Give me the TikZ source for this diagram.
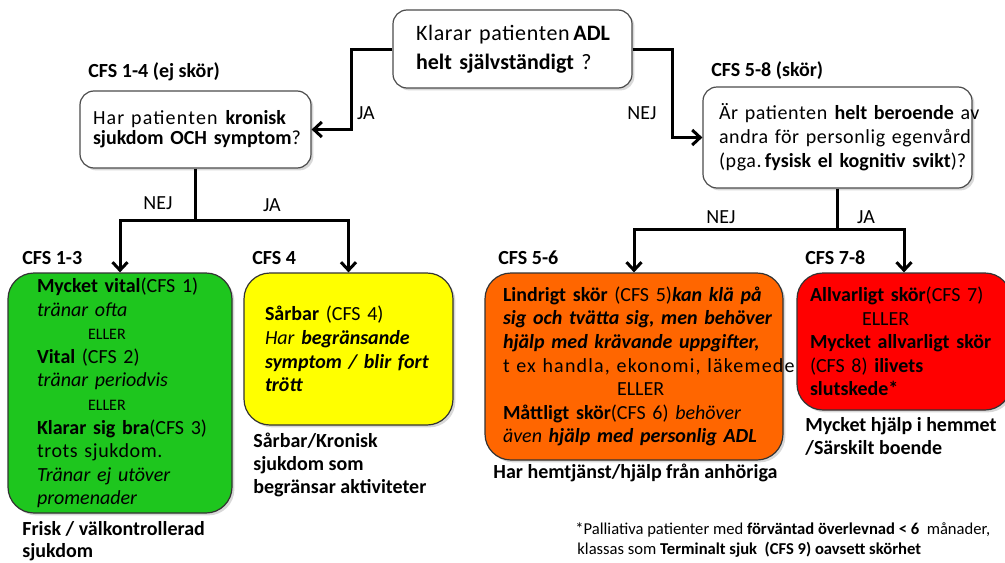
\documentclass[tikz,border=0pt]{standalone}
\usepackage{fontspec}
\setmainfont{Carlito}
\newfontfamily\spc{Carlito}[LetterSpace=3]
\newfontfamily\spcw{Carlito}[LetterSpace=6]
\usetikzlibrary{arrows.meta,shadows}
\definecolor{cfsgreen}{RGB}{30,198,30}
\definecolor{cfsyellow}{RGB}{255,255,0}
\definecolor{cfsorange}{RGB}{255,102,0}
\definecolor{cfsred}{RGB}{255,0,0}
\newcommand\txl[1]{\mbox{#1}}
\hfuzz=200pt \hbadness=10000
\begin{document}
\begin{tikzpicture}[x=0.5pt,y=-0.5pt,
  shade/.style={drop shadow={shadow xshift=1.2pt,shadow yshift=-1.2pt,opacity=0.3}},
  qbox/.style={draw=black!70, line width=0.6pt, rounded corners=7pt, fill=white, shade, align=left, inner ysep=0pt},
  cbox/.style={draw=black!80, line width=0.6pt, rounded corners=13pt, shade, align=left, inner ysep=0pt,
    font=\fontsize{10}{11.8}\selectfont},
  hdr/.style={font=\fontsize{10}{11.5}\selectfont\bfseries, inner sep=0pt, anchor=west, align=left},
  lbl/.style={font=\fontsize{10}{12}\selectfont, inner sep=0pt},
  note/.style={font=\fontsize{8.3}{10}\selectfont, inner sep=0pt, anchor=west, align=left},
  conn/.style={line width=1.5pt},
  arr/.style={line width=1.5pt, -{Straight Barb[length=4pt,width=7.5pt]}}
]
\useasboundingbox (0,0) rectangle (1005,562);
\fill[white] (0,0) rectangle (1005,562);

% question boxes
\node[qbox, text width=96.5pt, inner xsep=11.5pt, minimum height=39pt,
  font=\fontsize{11}{14.5}\selectfont] (top) at (512.5,49)
  {\txl{{\spc Klarar patienten}\,\textbf{ADL}}\\ \txl{\textbf{helt självständigt} ?}};
\node[qbox, text width=102.5pt, inner xsep=6.5pt, minimum height=38.5pt,
  font=\fontsize{10}{10}\selectfont] (lq) at (195.5,129.5)
  {\txl{{\spcw Har patienten} \textbf{kronisk}}\\ \txl{\textbf{sjukdom OCH symptom}?}};
\node[qbox, text width=118.5pt, inner xsep=8pt, minimum height=50.5pt,
  font=\fontsize{10}{12}\selectfont] (rq) at (837.5,137.5)
  {\txl{{\spc Är patienten} \textbf{helt beroende} {\spc av}}\\
   \txl{\spc andra för personlig egenvård}\\
   \txl{{\spc (pga.}\,\textbf{fysisk el kognitiv svikt})?}};

% headers
\node[hdr] (h14) at (88,72) {CFS 1-4 (ej skör)};
\node[hdr] (h58) at (711,71) {CFS 5-8 (skör)};
\node[hdr] (h13) at (22,258) {CFS 1-3};
\node[hdr] (h4) at (252,258) {CFS 4};
\node[hdr] (h56) at (498,258) {CFS 5-6};
\node[hdr] (h78) at (805,258) {CFS 7-8};

% category boxes
\node[cbox, fill=cfsgreen, text width=83pt, inner xsep=14.5pt, minimum height=120pt] (green) at (120,393)
  {\txl{\textbf{Mycket vital}(CFS 1)}\\
   \txl{\itshape tränar ofta}\\
   \txl{\hspace*{25.5pt}\fontsize{8}{11.7}\selectfont ELLER}\\
   \txl{\textbf{Vital} (CFS 2)}\\
   \txl{\itshape tränar periodvis}\\
   \txl{\hspace*{25.5pt}\fontsize{8}{11.7}\selectfont ELLER}\\
   \txl{\textbf{Klarar sig bra}(CFS 3)}\\
   \txl{\spc trots sjukdom.}\\
   \txl{\itshape Tränar ej utöver}\\
   \txl{\itshape promenader}};
\node[cbox, fill=cfsyellow, text width=83.5pt, inner xsep=10.5pt, minimum height=76pt] (yellow) at (348.5,349)
  {\txl{\textbf{Sårbar} (CFS 4)}\\
   \txl{\itshape Har \bfseries begränsande}\\
   \txl{\bfseries\itshape symptom / blir fort}\\
   \txl{\bfseries\itshape trött}};
\node[cbox, fill=cfsorange, text width=131pt, inner xsep=9pt, minimum height=93.5pt] (orange) at (634,366.5)
  {\txl{\textbf{Lindrigt skör} (CFS 5)\textbf{\textit{kan klä på}}}\\
   \txl{\bfseries\itshape sig och tvätta sig, men behöver}\\
   \txl{\bfseries\itshape hjälp med krävande uppgifter,}\\
   \txl{\spcw t ex handla, ekonomi, läkemede}\\
   \txl{\hspace*{57pt}ELLER}\\
   \txl{\textbf{Måttligt skör}(CFS 6)\textit{ behöver}}\\
   \txl{\itshape även \bfseries hjälp med personlig ADL}};
\node[cbox, fill=cfsred, text width=94pt, inner xsep=6.5pt, minimum height=68.5pt] (red) at (904,341.5)
  {\txl{\textbf{Allvarligt skör}(CFS 7)}\\
   \txl{\hspace*{26pt}ELLER}\\
   \txl{\textbf{Mycket allvarligt skör}}\\
   \txl{(CFS 8) \textbf{ilivets}}\\
   \txl{\textbf{slutskede*}}};

% connectors
\coordinate (a1) at (351,49);
\coordinate (a2) at (672,49);
\coordinate (b1) at (195.5,220);
\coordinate (b2) at (837.5,229);
\draw[arr] (top.west) -- (a1) |- (lq.east);
\draw[arr] (top.east) -- (a2) |- (rq.west);
\draw[conn] (lq.south) -- (b1);
\draw[arr] (b1) -| (green.north);
\draw[arr] (b1) -| (yellow.north);
\draw[conn] (rq.south) -- (b2);
\draw[arr] (b2) -| (orange.north);
\draw[arr] (b2) -| (red.north);

% answer labels
\node[lbl] (ja1) at (366,113) {JA};
\node[lbl] (nej1) at (642,113) {NEJ};
\node[lbl] (nej2) at (158,203) {NEJ};
\node[lbl] (ja2) at (272,205) {JA};
\node[lbl] (nej3) at (721,217) {NEJ};
\node[lbl] (ja3) at (866,217) {JA};

% descriptions
\node[hdr, font=\fontsize{10}{10.8}\selectfont\bfseries] (d1) at (22,541) {Frisk / välkontrollerad\\sjukdom};
\node[hdr] (d2) at (253,465) {Sårbar/Kronisk\\sjukdom som\\begränsar aktiviteter};
\node[hdr] (d3) at (493,473) {Har hemtjänst/hjälp från anhöriga};
\node[hdr] (d4) at (805,436.5) {Mycket hjälp i hemmet\\/Särskilt boende};
\node[note] (fn) at (575,540)
  {*Palliativa patienter med \textbf{förväntad överlevnad < 6}\ \ månader,\\
   \hspace*{1pt}klassas som \textbf{Terminalt sjuk}\ \ \textbf{(CFS 9) oavsett skörhet}};
\end{tikzpicture}
\end{document}
